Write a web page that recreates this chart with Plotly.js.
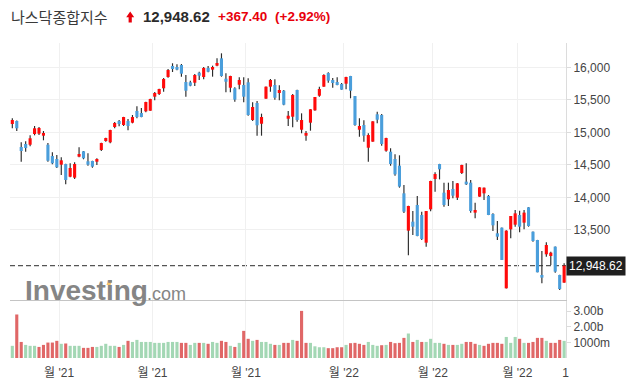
<!DOCTYPE html>
<html><head><meta charset="utf-8">
<script src="https://cdn.plot.ly/plotly-3.0.1.min.js"></script>
<style>html,body{margin:0;padding:0;background:#fff;}#chart{width:633px;height:385px;}</style>
</head><body><div id="chart"></div>
<script>
// ---------------- DATA ----------------
const dates = [
"2021-09-16","2021-09-17","2021-09-20","2021-09-21","2021-09-22","2021-09-23","2021-09-24","2021-09-27","2021-09-28","2021-09-29","2021-09-30",
"2021-10-01","2021-10-04","2021-10-05","2021-10-06","2021-10-07","2021-10-08","2021-10-11","2021-10-12","2021-10-13","2021-10-14","2021-10-15","2021-10-18","2021-10-19","2021-10-20","2021-10-21","2021-10-22","2021-10-25","2021-10-26","2021-10-27","2021-10-28","2021-10-29",
"2021-11-01","2021-11-02","2021-11-03","2021-11-04","2021-11-05","2021-11-08","2021-11-09","2021-11-10","2021-11-11","2021-11-12","2021-11-15","2021-11-16","2021-11-17","2021-11-18","2021-11-19","2021-11-22","2021-11-23","2021-11-24","2021-11-26","2021-11-29","2021-11-30",
"2021-12-01","2021-12-02","2021-12-03","2021-12-06","2021-12-07","2021-12-08","2021-12-09","2021-12-10","2021-12-13","2021-12-14","2021-12-15","2021-12-16","2021-12-17","2021-12-20","2021-12-21","2021-12-22","2021-12-23","2021-12-27","2021-12-28","2021-12-29","2021-12-30","2021-12-31",
"2022-01-03","2022-01-04","2022-01-05","2022-01-06","2022-01-07","2022-01-10","2022-01-11","2022-01-12","2022-01-13","2022-01-14","2022-01-18","2022-01-19","2022-01-20","2022-01-21","2022-01-24","2022-01-25","2022-01-26","2022-01-27","2022-01-28","2022-01-31",
"2022-02-01","2022-02-02","2022-02-03","2022-02-04","2022-02-07","2022-02-08","2022-02-09","2022-02-10","2022-02-11","2022-02-14","2022-02-15","2022-02-16","2022-02-17","2022-02-18","2022-02-22","2022-02-23","2022-02-24","2022-02-25","2022-02-28",
"2022-03-01","2022-03-02","2022-03-03","2022-03-04","2022-03-07","2022-03-08","2022-03-09","2022-03-10","2022-03-11","2022-03-14","2022-03-15"];

const open = [
15128,15174,14774,14820,14809,14974,14979,14948,14809,14635,14589,
14502,14512,14317,14302,14625,14708,14554,14559,14548,14728,14866,14846,15082,15174,15112,15174,15148,15328,15297,15323,15332,
15548,15589,15677,15851,16020,16005,16036,15774,15769,15763,15917,15851,15989,15964,16025,16138,15825,15686,15677,15732,15728,
15769,15189,15451,15132,15517,15702,15728,15605,15640,15209,15240,15651,15040,14948,15148,15338,15563,15702,15912,15805,15774,15743,
15748,15866,15558,15040,15112,14763,14856,15277,15266,14717,14702,14589,14487,14061,13487,13625,13882,13728,13302,13815,
14282,14512,14071,13969,14128,13994,14374,14241,14225,13764,14010,14061,14020,13743,13446,13533,12600,13507,13579,
13728,13610,13846,13471,13343,12805,13123,13097,13241,12805,12687];

const high = [
15215,15180,14846,14862,14954,15097,15080,15020,14835,14692,14651,
14615,14515,14523,14538,14769,14712,14677,14562,14600,14840,14915,15038,15158,15189,15238,15205,15266,15400,15374,15471,15515,
15620,15671,15836,15974,16062,16046,16051,15882,15794,15897,15932,16005,16020,16025,16138,16215,15908,15870,15692,15846,15846,
15831,15462,15482,15287,15705,15820,15815,15723,15651,15328,15589,15655,15292,15020,15356,15545,15702,15892,15923,15836,15846,15758,
15853,15868,15560,15215,15184,14985,15172,15317,15282,14915,14754,14661,14646,14189,13870,13789,14020,13779,13790,14255,
14384,14515,14225,14225,14251,14220,14500,14523,14266,13917,14155,14150,14035,13753,13635,13535,13495,13714,13805,
13794,13805,13848,13473,13345,13174,13307,13164,13243,12807,12984];

const low = [
15062,15020,14548,14702,14785,14954,14960,14877,14548,14508,14451,
14343,14200,14310,14282,14615,14585,14486,14456,14497,14712,14856,14831,15062,15092,15097,15031,15138,15215,15230,15308,15330,
15492,15574,15625,15840,15928,15954,15856,15548,15708,15712,15805,15815,15923,15856,16015,15856,15615,15615,15471,15662,15462,
15256,15174,14948,14948,15515,15625,15502,15492,15415,15097,15077,15163,14985,14871,15025,15330,15548,15700,15763,15686,15725,15654,
15662,15523,15102,14933,14856,14548,14854,15138,14794,14702,14486,14333,14148,13760,13107,13420,13400,13343,13241,13784,
14087,14276,13856,13866,13984,13958,14358,14189,13764,13676,14008,13958,13726,13482,13343,13036,12598,13369,13548,
13461,13507,13548,13318,12846,12676,13087,12958,12840,12574,12685];

const close = [
15189,15062,14712,14758,14908,15062,15066,14989,14563,14523,14462,
14569,14266,14451,14512,14666,14600,14502,14471,14589,14835,14912,15035,15143,15128,15235,15097,15235,15235,15235,15466,15512,
15605,15666,15820,15958,15974,15964,15902,15640,15717,15882,15871,15989,15932,16005,16066,15866,15778,15866,15502,15805,15548,
15266,15389,15108,15235,15702,15805,15532,15651,15425,15255,15574,15189,15189,14989,15354,15543,15666,15882,15794,15758,15728,15656,
15851,15640,15112,15097,14948,14958,15169,15194,14820,14912,14512,14353,14164,13779,13866,13548,13405,13359,13789,14251,
14358,14430,13882,14112,14025,14215,14497,14200,13789,13805,14153,14148,13728,13569,13394,13036,13487,13712,13753,
13548,13764,13558,13328,12846,12764,13266,13148,12856,12589,12948.62];

// volume in billions of shares
const volumeB = [
0.78,2.79,1.03,0.84,0.78,0.78,0.71,0.84,0.99,0.99,1.10,
0.91,0.93,0.78,0.78,0.78,0.65,0.65,0.71,0.71,0.78,0.91,0.78,0.78,0.71,0.84,1.10,1.03,1.16,1.03,1.03,1.03,
0.97,0.97,0.97,1.03,1.03,1.03,0.97,0.97,0.84,0.97,0.97,0.97,0.91,1.03,0.97,1.10,1.03,0.78,0.71,0.97,1.74,
1.23,1.10,1.16,1.03,1.03,0.91,0.84,0.84,0.97,0.97,1.16,1.10,3.02,0.97,0.97,0.75,0.69,0.69,0.63,0.63,0.69,0.69,
0.84,0.95,0.97,0.91,0.84,1.03,0.84,0.78,0.82,0.84,1.03,0.95,0.97,1.29,1.57,1.03,1.16,1.03,1.03,1.23,
0.97,0.97,0.91,0.84,0.84,0.84,0.91,1.03,1.03,0.91,0.84,0.78,0.91,0.97,0.97,0.91,1.35,0.97,1.35,
1.23,0.97,0.97,1.03,1.29,1.29,1.10,0.97,0.97,1.16,1.10];

// 1 = close above previous close (green volume bar), 0 = below (red)
const volumeUp = [
1,0,0,1,1,1,0,0,0,0,0,
1,0,1,1,1,0,0,0,1,1,1,1,1,0,1,0,1,1,1,1,1,
1,1,1,1,1,1,0,0,1,1,0,1,0,1,1,0,0,1,0,1,0,
0,1,0,1,1,1,0,1,0,0,1,0,0,0,1,1,1,1,0,0,0,0,
1,0,0,0,0,1,1,1,0,1,0,0,0,0,1,0,1,0,1,1,
1,1,0,1,0,1,1,0,0,0,1,0,0,0,0,0,1,1,1,
0,1,0,0,0,0,1,0,0,0,1];

const monthLabels = ["월 '21","월 '21","월 '21","월 '22","월 '22","월 '22"];
const edgeLabel = "1";
const priceTicks = [13500,14000,14500,15000,15500,16000];
const volTicks = [1,2,3];
const volTickText = ["1000m","2.00b","3.00b"];
const titleName = "나스닥종합지수";
const changeText = "+367.40";
const pctText = "(+2.92%)";

// ---------------- STYLE ----------------
const UP = '#ff0a0a', DOWN = '#4a9edb', WICK = '#2b2b2b';
const VOL_UP = '#a3d7b4', VOL_DOWN = '#e06767';
const FONT = 'Liberation Sans, Arial, Noto Sans CJK KR, sans-serif';

const n = close.length;
const idx = close.map((c,i)=>i);
const bodyBase = open.map((o,i)=>Math.min(o, close[i]));
const bodyLen = open.map((o,i)=>Math.max(Math.abs(close[i]-o), 14));
const bodyCol = open.map((o,i)=> close[i] >= o ? UP : DOWN);
const wickLen = high.map((h,i)=> h - low[i]);
const volCol = volumeUp.map(u => u ? VOL_UP : VOL_DOWN);

// month boundaries (gridlines / tick labels)
const monthVals = [];
for (let i=1;i<n;i++) if (dates[i].slice(5,7)!==dates[i-1].slice(5,7)) monthVals.push(i-0.5);
const tickVals = monthVals.concat([n-0.7]);
const tickText = monthLabels.concat([edgeLabel]);

const L=10, R=566, T=43, B=358, W=633, H=385;
const px = p => (p-L)/(R-L);
const py = p => (B-p)/(B-T);

const traces = [
  {type:'bar', x:idx, y:wickLen, base:low, width:0.26, marker:{color:WICK}, xaxis:'x', yaxis:'y', hoverinfo:'skip', showlegend:false},
  {type:'bar', x:idx, y:bodyLen, base:bodyBase, width:0.7, marker:{color:bodyCol}, xaxis:'x', yaxis:'y', hoverinfo:'skip', showlegend:false},
  {type:'bar', x:idx, y:volumeB, width:0.7, marker:{color:volCol}, xaxis:'x2', yaxis:'y2', hoverinfo:'skip', showlegend:false}
];

const last = close[n-1];
const lastStr = last.toLocaleString('en-US',{minimumFractionDigits:2, maximumFractionDigits:2});

const layout = {
  width:W, height:H, margin:{l:L, r:W-R, t:T, b:H-B, pad:0},
  paper_bgcolor:'#fff', plot_bgcolor:'#fff', barmode:'overlay', showlegend:false,
  font:{family:FONT, size:12, color:'#444'},
  xaxis:{domain:[0,1], anchor:'y', range:[-0.52,124.42], tickvals:monthVals, showticklabels:false,
         showgrid:true, gridcolor:'#f0f0f0', zeroline:false, showline:true, linecolor:'#c4c4c4', linewidth:1, ticks:''},
  xaxis2:{domain:[0,1], anchor:'y2', matches:'x', tickvals:tickVals, ticktext:tickText,
         showgrid:true, gridcolor:'#f0f0f0', zeroline:false, showline:false, ticks:'',
         tickfont:{family:FONT, size:12, color:'#444'}, ticklabelstandoff:6},
  yaxis:{domain:[py(300),1], side:'right', range:[12420,16374], tickvals:priceTicks, tickformat:',',
         showgrid:true, gridcolor:'#f0f0f0', zeroline:false, showline:true, linecolor:'#dcdcdc',
         ticks:'outside', ticklen:4, tickcolor:'#dcdcdc', tickfont:{family:FONT, size:12, color:'#444'}},
  yaxis2:{domain:[0,py(301)], side:'right', range:[0,3.654], tickvals:volTicks, ticktext:volTickText,
         showgrid:false, zeroline:false, showline:true, linecolor:'#dcdcdc',
         ticks:'outside', ticklen:4, tickcolor:'#dcdcdc', tickfont:{family:FONT, size:12, color:'#444'}},
  shapes:[
    {type:'line', xref:'paper', x0:0, x1:1, yref:'y', y0:last, y1:last, layer:'below',
     line:{color:'#555', width:1.3, dash:'5px,3px'}},
    {type:'path', xref:'paper', yref:'paper', fillcolor:'#e8000b', line:{width:0},
     path:`M ${px(130.2)},${py(11.5)} L ${px(134.2)},${py(17.3)} L ${px(131.8)},${py(17.3)} L ${px(131.8)},${py(22.5)} L ${px(128.6)},${py(22.5)} L ${px(128.6)},${py(17.3)} L ${px(126.2)},${py(17.3)} Z`},
    {type:'path', xref:'paper', yref:'paper', fillcolor:'#f6c36a', line:{width:0},
     path:`M ${px(106.5)},${py(285)} L ${px(108)},${py(280.5)} L ${px(112)},${py(280.5)} L ${px(110.5)},${py(285)} Z`}
  ],
  annotations:[
    {xref:'paper', yref:'paper', x:px(9), y:py(16.5), xanchor:'left', yanchor:'middle', showarrow:false,
     text:titleName, font:{family:'Noto Sans CJK KR, sans-serif', size:15, color:'#3a3a3a'}},
    {xref:'paper', yref:'paper', x:px(141), y:py(16.5), xanchor:'left', yanchor:'middle', showarrow:false,
     text:'<b>'+lastStr+'</b>', font:{family:FONT, size:15, color:'#2b2b2b'}},
    {xref:'paper', yref:'paper', x:px(216), y:py(16.5), xanchor:'left', yanchor:'middle', showarrow:false,
     text:'<b>'+changeText+'</b>', font:{family:FONT, size:13.5, color:'#e8000b'}},
    {xref:'paper', yref:'paper', x:px(273), y:py(16.5), xanchor:'left', yanchor:'middle', showarrow:false,
     text:'<b>'+pctText+'</b>', font:{family:FONT, size:13.5, color:'#e8000b'}},
    {xref:'paper', yref:'y', x:1, y:last, xanchor:'left', yanchor:'middle', showarrow:false, xshift:0,
     text:lastStr, bgcolor:'#1f1f1f', borderpad:2, font:{family:FONT, size:12, color:'#fff'}},
    {xref:'paper', yref:'paper', x:px(23), y:py(290.5), xanchor:'left', yanchor:'middle', showarrow:false,
     text:'<b>Investing</b>', font:{family:FONT, size:28, color:'#858585'}},
    {xref:'paper', yref:'paper', x:px(145), y:py(294), xanchor:'left', yanchor:'middle', showarrow:false,
     text:'.com', font:{family:FONT, size:18, color:'#858585'}}
  ]
};

Plotly.newPlot('chart', traces, layout, {displayModeBar:false, staticPlot:true});
</script>
</body></html>
